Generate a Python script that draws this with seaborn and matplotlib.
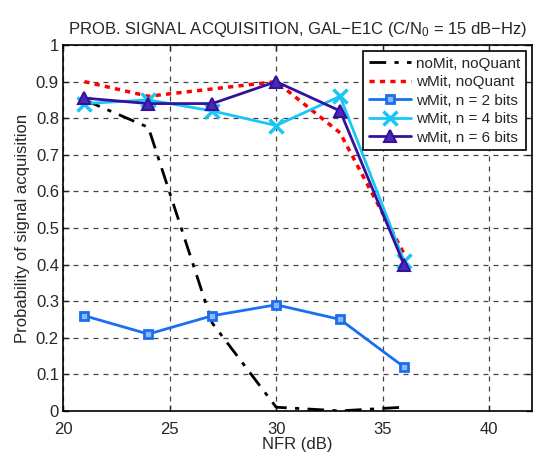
import numpy as np
import pandas as pd
import matplotlib
matplotlib.use("Agg")
import matplotlib.pyplot as plt
import seaborn as sns

# NFR values (dB)
nfr = [21, 24, 27, 30, 33, 36]

# probabilita' di acquisizione
no_mit_no_quant = [0.85, 0.775, 0.24, 0.01, 0.0, 0.01]
w_mit_no_quant = [0.90, 0.86, 0.88, 0.90, 0.76, 0.43]
w_mit_2bit = [0.26, 0.21, 0.26, 0.29, 0.25, 0.12]
w_mit_4bit = [0.84, 0.85, 0.82, 0.78, 0.86, 0.41]
w_mit_6bit = [0.855, 0.84, 0.84, 0.90, 0.82, 0.40]

etichette = ["noMit, noQuant", "wMit, noQuant", "wMit, n = 2 bits",
             "wMit, n = 4 bits", "wMit, n = 6 bits"]

sns.set_theme(style="white")
plt.rcParams['font.family'] = ['Liberation Sans', 'DejaVu Sans']
plt.rcParams['mathtext.default'] = 'regular'

fig = plt.figure(figsize=(5.35, 4.55), dpi=100)
ax = fig.add_axes([0.118, 0.097, 0.876, 0.804])

serie = [
    (no_mit_no_quant, dict(color='black', linestyle=(0, (6, 3, 1.5, 3)), linewidth=2.0)),
    (w_mit_no_quant, dict(color='#ff0000', linestyle=(0, (1.5, 1.5)), linewidth=2.5)),
    (w_mit_2bit, dict(color='#1a6ff0', linewidth=2.0, marker='s', markersize=6,
                      markerfacecolor='#8fb8f8', markeredgecolor='#1a6ff0',
                      markeredgewidth=2.0)),
    (w_mit_4bit, dict(color='#1ac6f5', linewidth=2.0, marker='x', markersize=10,
                      markeredgecolor='#1ac6f5', markeredgewidth=2.5)),
    (w_mit_6bit, dict(color='#34129e', linewidth=2.0, marker='^', markersize=8,
                      markerfacecolor='#4a2ab5', markeredgecolor='#34129e',
                      markeredgewidth=1.5)),
]

for (valori, stile), etichetta in zip(serie, etichette):
    sns.lineplot(x=nfr, y=valori, ax=ax, label=etichetta, **stile)

ax.set_xlim(20, 42)
ax.set_ylim(0, 1)
ax.set_xticks([20, 25, 30, 35, 40])
ax.set_yticks(np.arange(0, 1.01, 0.1))
ax.set_yticklabels(['0', '0.1', '0.2', '0.3', '0.4', '0.5', '0.6', '0.7', '0.8', '0.9', '1'])
ax.tick_params(axis='both', labelsize=12, direction='in', length=4, width=1,
               top=True, right=True, bottom=True, left=True)
ax.tick_params(axis='x', pad=8)
ax.tick_params(axis='y', pad=3)
ax.grid(True, linestyle=(0, (4, 4)), color='#444444', linewidth=0.9)
for lato in ax.spines.values():
    lato.set_color('black')
    lato.set_linewidth(1.2)

ax.set_xlabel('NFR (dB)', fontsize=12, labelpad=0)
ax.set_ylabel('Probability of signal acquisition', fontsize=12, labelpad=4)
ax.set_title('PROB. SIGNAL ACQUISITION, GAL\u2212E1C (C/N$_0$ = 15 dB\u2212Hz)',
             fontsize=12, pad=8)

leg = ax.legend(loc='upper right', fontsize=11, frameon=True, fancybox=False,
                framealpha=1, edgecolor='black', borderpad=0.35, labelspacing=0.3,
                handlelength=2.8, handletextpad=0.3, borderaxespad=0.4)
leg.get_frame().set_linewidth(1.2)

fig.savefig('out.png', dpi=100)
